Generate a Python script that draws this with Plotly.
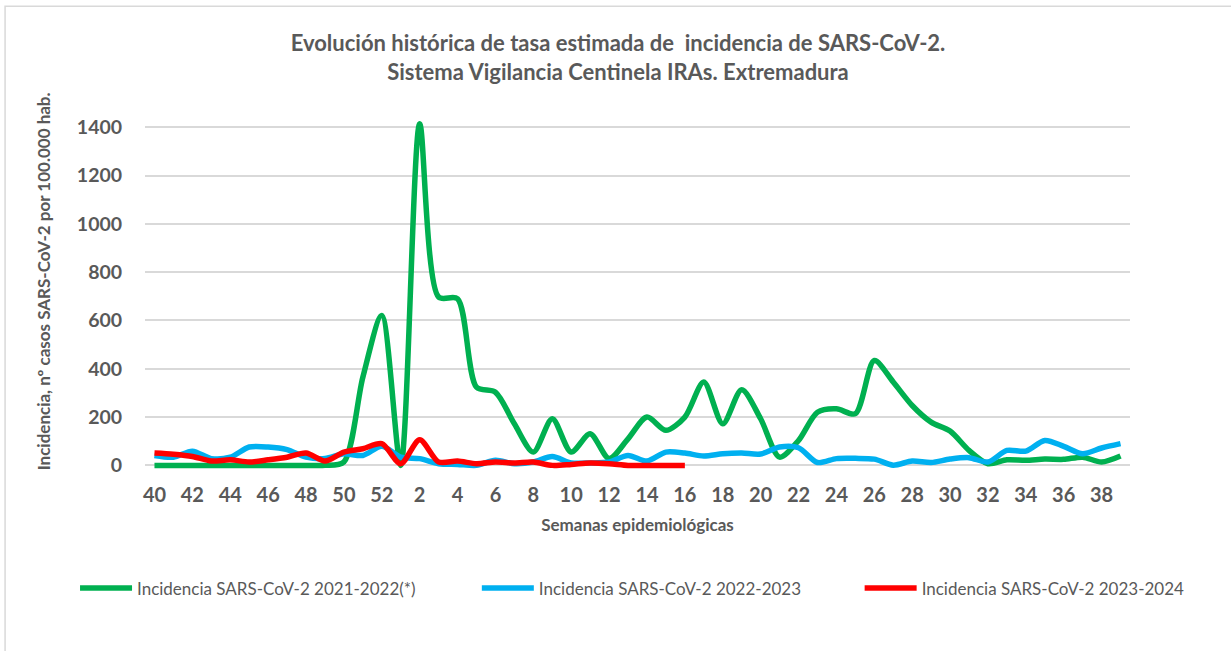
import plotly.graph_objects as go

weeks = [str(w) for w in list(range(40, 53)) + list(range(1, 40))]

inc_2021_2022 = [0, 0, 0, 0, 0, 0, 0, 0, 0, 0, 14, 365, 621,
                 0, 1414, 697, 690, 324, 303, 172, 55, 193, 55, 131, 28, 110, 200,
                 145, 200, 345, 172, 313, 193, 34, 103, 220, 234, 214, 434, 345, 248,
                 179, 142, 62, 7, 23, 21, 26, 25, 34, 14, 39]
inc_2022_2023 = [41, 34, 59, 28, 34, 76, 76, 65, 34, 28, 48, 41, 79,
                 34, 28, 7, 4, 0, 21, 7, 14, 37, 10, 10, 14, 41, 18,
                 55, 51, 39, 48, 51, 47, 76, 73, 12, 28, 29, 26, 1, 18,
                 12, 26, 32, 14, 62, 59, 103, 79, 48, 72, 90]
inc_2023_2024 = [51, 46, 37, 18, 23, 14, 23, 34, 51, 18, 55, 69, 90,
                 7, 106, 14, 18, 7, 14, 10, 14, 0, 4, 10, 7, 0, 0,
                 0, 0, None, None, None, None, None, None, None, None, None, None, None, None,
                 None, None, None, None, None, None, None, None, None, None, None]

y_ticks = [0, 200, 400, 600, 800, 1000, 1200, 1400]

series_names = ["Incidencia SARS-CoV-2 2021-2022(*)",
                "Incidencia SARS-CoV-2 2022-2023",
                "Incidencia SARS-CoV-2 2023-2024"]
series_colors = ["#00B050", "#00B0F0", "#FF0000"]
legend_ids = ["legend", "legend2", "legend3"]

FONT = "Lato, Carlito, Calibri, sans-serif"
GRAY = "#595959"

fig = go.Figure()
for name, vals, col, lg in zip(series_names, [inc_2021_2022, inc_2022_2023, inc_2023_2024],
                               series_colors, legend_ids):
    fig.add_trace(go.Scatter(x=weeks, y=vals, name=name, mode="lines", legend=lg,
                             line=dict(color=col, width=5.5, shape="spline", smoothing=0.8),
                             connectgaps=False))

W, H = 1231, 651
L, R = 145, 1130.5
T, B = 119.8, 468.6

def px(p):
    return (p - L) / (R - L)

def py(q):
    return (B - q) / (B - T)

shown = [w for i, w in enumerate(weeks) if i % 2 == 0]

legend_font = dict(size=17, color=GRAY, family=FONT)
leg_common = dict(orientation="h", xanchor="left", yanchor="middle", y=py(588),
                  font=legend_font, bgcolor="rgba(0,0,0,0)", itemwidth=52)

fig.update_layout(
    width=W, height=H,
    margin=dict(l=L, r=W - R, t=T, b=H - B, autoexpand=False),
    paper_bgcolor="white", plot_bgcolor="white",
    font=dict(family=FONT, color=GRAY),
    title=dict(text="<b>Evolución histórica de tasa estimada de  incidencia de SARS-CoV-2.<br>Sistema Vigilancia Centinela IRAs. Extremadura</b>",
               x=618 / W, xanchor="center", xref="container",
               y=1 - 51 / H, yanchor="top", yref="container",
               font=dict(size=22, color=GRAY, family=FONT)),
    xaxis=dict(type="category", range=[-0.5, len(weeks) - 0.5],
               tickmode="array", tickvals=shown, ticktext=shown,
               tickfont=dict(size=20, color=GRAY, family=FONT, weight="bold"),
               ticks="outside", ticklen=8, tickcolor="rgba(0,0,0,0)",
               showgrid=False, showline=False, zeroline=False,
               title=dict(text="<b>Semanas epidemiológicas</b>", font=dict(size=17, color=GRAY, family=FONT),
                          standoff=14)),
    yaxis=dict(range=[-15, 1430], tickmode="array", tickvals=y_ticks,
               tickfont=dict(size=19.5, color=GRAY, family=FONT, weight="bold"),
               ticks="outside", ticklen=18, tickcolor="rgba(0,0,0,0)",
               showgrid=True, gridcolor="#D9D9D9", gridwidth=1.5, zeroline=False, showline=False),
    legend=dict(x=px(75), **leg_common),
    legend2=dict(x=px(477), **leg_common),
    legend3=dict(x=px(860), **leg_common),
    showlegend=True,
)

fig.add_annotation(text="<b>Incidencia, nº casos SARS-CoV-2 por 100.000 hab.</b>",
                   xref="paper", yref="paper", x=px(43), y=py(281), xanchor="center", yanchor="middle",
                   textangle=-90, showarrow=False, font=dict(size=17, color=GRAY, family=FONT))

fig.add_shape(type="rect", xref="paper", yref="paper",
              x0=px(5), x1=px(1240), y0=py(6), y1=py(660),
              line=dict(color="#D9D9D9", width=1.5), fillcolor="rgba(0,0,0,0)", layer="below")

fig.write_html("out.html", config={"displayModeBar": False},
               post_script="document.body.style.margin='0';document.body.style.overflow='hidden';")
